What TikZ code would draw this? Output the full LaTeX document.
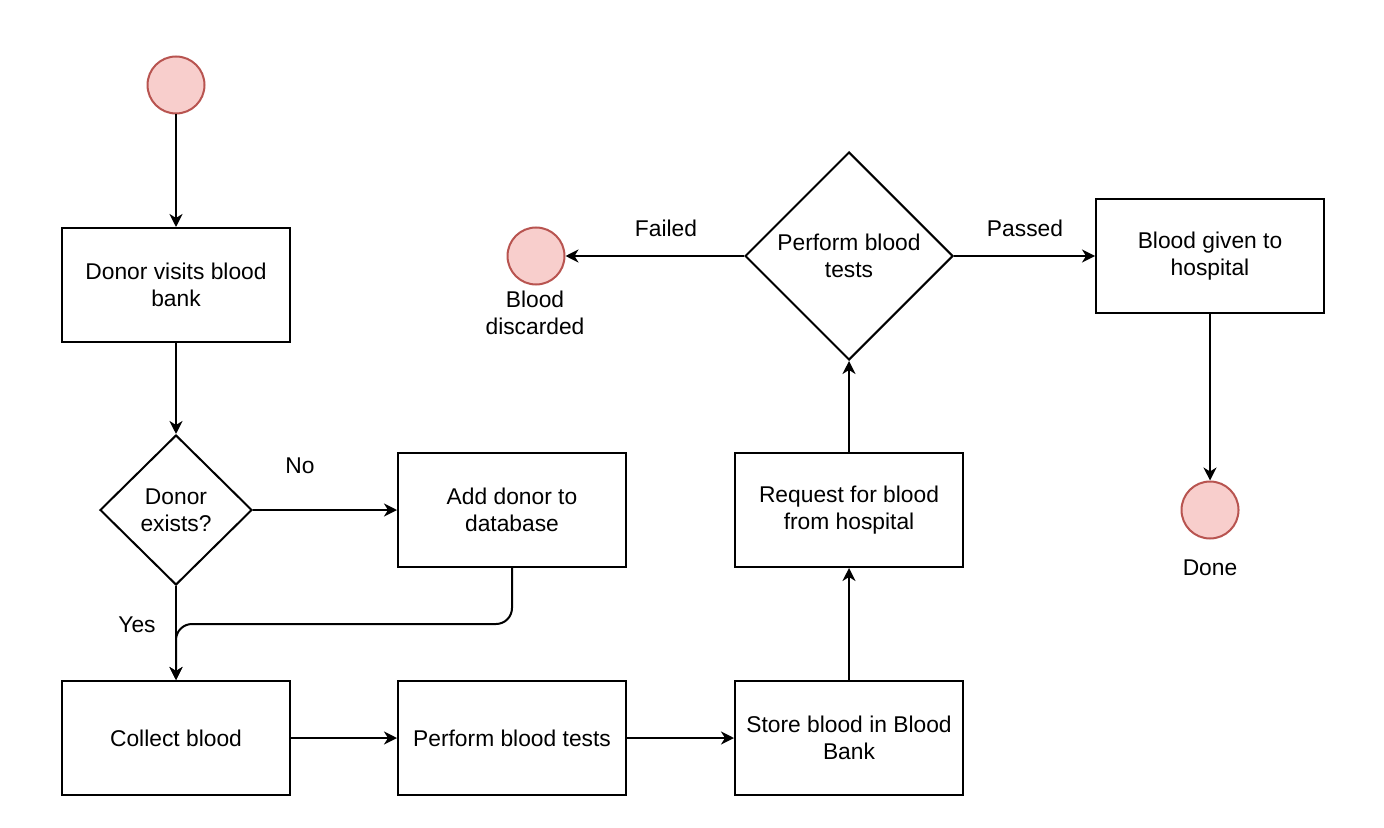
\documentclass[tikz,border=0pt]{standalone}
\usepackage{fontspec}
\setmainfont{Liberation Sans}
\usetikzlibrary{shapes.geometric,arrows.meta}
\definecolor{endfill}{HTML}{F8CECC}
\definecolor{endline}{HTML}{B85450}
\begin{document}
\begin{tikzpicture}[x=0.5pt, y=-0.5pt, line width=1pt,
  every node/.style={font=\fontsize{11.4}{13.5}\selectfont},
  box/.style={draw, minimum width=114pt, minimum height=57pt, align=center, inner sep=0pt},
  decide/.style={draw, diamond, align=center, inner sep=0pt},
  endpt/.style={circle, draw=endline, fill=endfill, minimum size=28.5pt, inner sep=0pt},
  flow/.style={-{Stealth[length=6.5pt,width=6.5pt,inset=2pt]}}]
\useasboundingbox (0,0) rectangle (1384,828);

\node (start) at (176, 85) [endpt] {};
\node (visit) at (176, 285) [box] {Donor visits blood\\bank};
\node (exists) at (176, 510) [decide, minimum width=76pt, minimum height=75pt] {Donor\\exists?};
\node (add) at (512, 510) [box] {Add donor to\\database};
\node (collect) at (176, 738) [box] {Collect blood};
\node (tests) at (512, 738) [box] {Perform blood tests};
\node (store) at (849, 738) [box] {Store blood in Blood\\Bank};
\node (request) at (849, 510) [box] {Request for blood\\from hospital};
\node (check) at (849, 256) [decide, minimum width=104pt, minimum height=104pt] {Perform blood\\tests};
\node (discard) at (536, 256) [endpt] {};
\node (given) at (1210, 256) [box] {Blood given to\\hospital};
\node (done) at (1210, 510) [endpt] {};
\coordinate (join) at (176, 624);

% labels
\node (nolbl) at (300, 466) {No};
\node (yeslbl) at (137, 625) {Yes};
\node (faillbl) at (666, 228) {Failed};
\node (passlbl) at (1025, 228) {Passed};
\node (discardlbl) at (535, 313) [align=center] {Blood\\discarded};
\node (donelbl) at (1210, 568) {Done};

\draw[flow] (start) to (visit);
\draw[flow] (visit) to (exists);
\draw[flow] (exists) to (add);
\draw[flow] (exists) to (collect);
\draw[flow, rounded corners=8pt] (add.south) |- (join) -- (collect.north);
\draw[flow] (collect) to (tests);
\draw[flow] (tests) to (store);
\draw[flow] (store) to (request);
\draw[flow] (request) to (check);
\draw[flow] (check) to (discard);
\draw[flow] (check) to (given);
\draw[flow] (given) to (done);
\end{tikzpicture}
\end{document}
